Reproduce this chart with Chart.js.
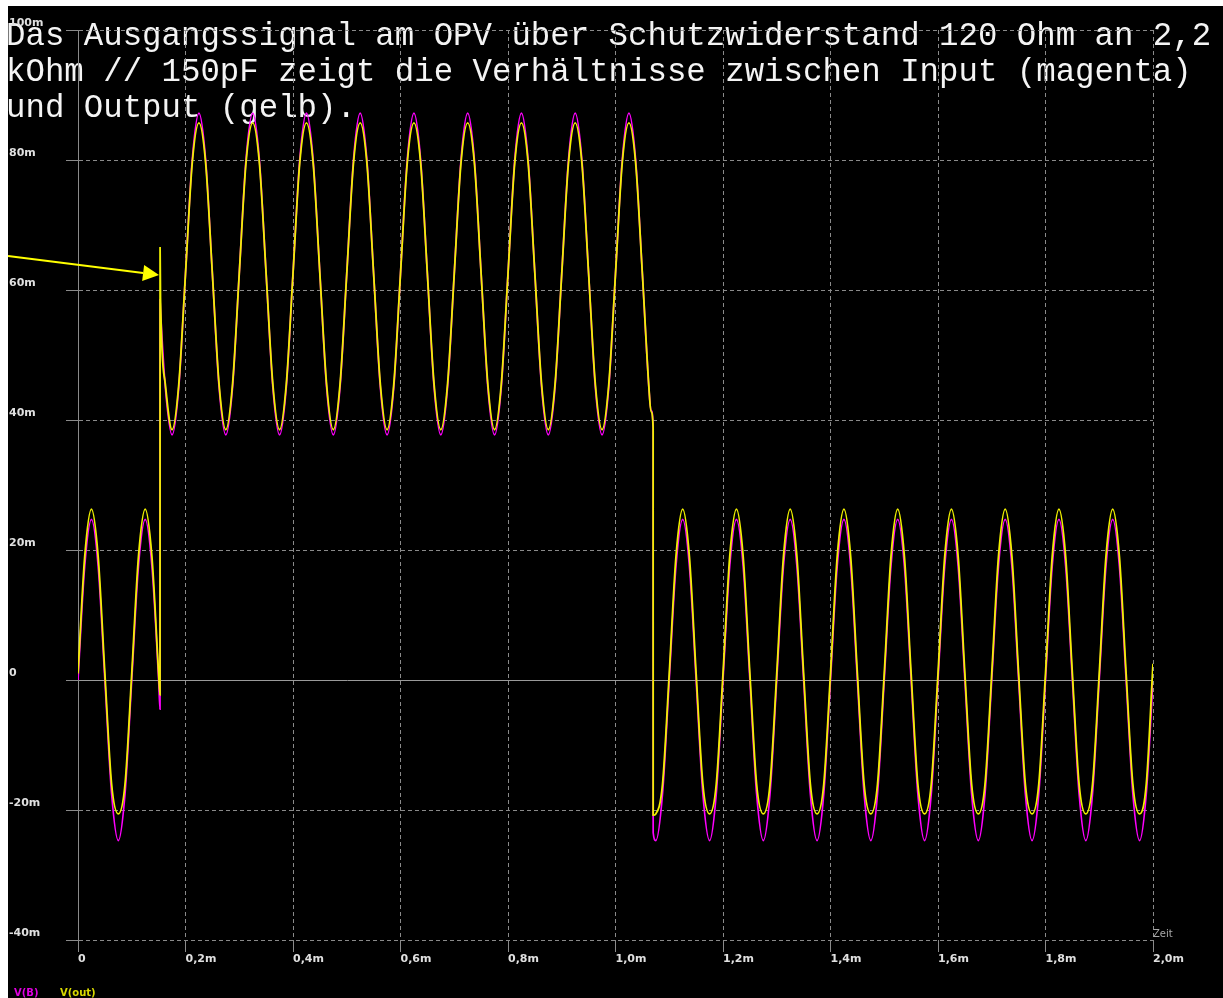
<!DOCTYPE html>
<html>
<head>
<meta charset="utf-8">
<script src="https://cdn.jsdelivr.net/npm/chart.js@4.4.1/dist/chart.umd.min.js"></script>
<style>
  html, body { margin: 0; padding: 0; background: #ffffff; }
  #wrap { position: absolute; left: 0; top: 0; width: 1223px; height: 998px; }
</style>
</head>
<body>
<div id="wrap"><canvas id="c" width="1223" height="998"></canvas></div>
<script>
// ---- data (time in ms, voltages in mV) ----
const timeMs = [
  0,0.0125,0.025,0.0375,0.05,0.0625,0.075,0.0875,
  0.1,0.1125,0.125,0.1375,0.15,0.1526,0.1527,0.1535,0.1625,0.175,0.1875,
  0.2,0.2125,0.225,0.2375,0.25,0.2625,0.275,0.2875,
  0.3,0.3125,0.325,0.3375,0.35,0.3625,0.375,0.3875,
  0.4,0.4125,0.425,0.4375,0.45,0.4625,0.475,0.4875,
  0.5,0.5125,0.525,0.5375,0.55,0.5625,0.575,0.5875,
  0.6,0.6125,0.625,0.6375,0.65,0.6625,0.675,0.6875,
  0.7,0.7125,0.725,0.7375,0.75,0.7625,0.775,0.7875,
  0.8,0.8125,0.825,0.8375,0.85,0.8625,0.875,0.8875,
  0.9,0.9125,0.925,0.9375,0.95,0.9625,0.975,0.9875,
  1.0,1.0125,1.025,1.0375,1.05,1.0625,1.066,1.07,1.0701,1.075,1.0875,
  1.1,1.1125,1.125,1.1375,1.15,1.1625,1.175,1.1875,
  1.2,1.2125,1.225,1.2375,1.25,1.2625,1.275,1.2875,
  1.3,1.3125,1.325,1.3375,1.35,1.3625,1.375,1.3875,
  1.4,1.4125,1.425,1.4375,1.45,1.4625,1.475,1.4875,
  1.5,1.5125,1.525,1.5375,1.55,1.5625,1.575,1.5875,
  1.6,1.6125,1.625,1.6375,1.65,1.6625,1.675,1.6875,
  1.7,1.7125,1.725,1.7375,1.75,1.7625,1.775,1.7875,
  1.8,1.8125,1.825,1.8375,1.85,1.8625,1.875,1.8875,
  1.9,1.9125,1.925,1.9375,1.95,1.9625,1.975,1.9875,
  2.0
];
const vB = [
  0,17.5,24.7,17.5,0,-17.5,-24.7,-17.5,
  0,17.5,24.7,17.5,0,-4.5,58.5,57,45,37.7,45,
  62.5,80,87.2,80,62.5,45,37.7,45,
  62.5,80,87.2,80,62.5,45,37.7,45,
  62.5,80,87.2,80,62.5,45,37.7,45,
  62.5,80,87.2,80,62.5,45,37.7,45,
  62.5,80,87.2,80,62.5,45,37.7,45,
  62.5,80,87.2,80,62.5,45,37.7,45,
  62.5,80,87.2,80,62.5,45,37.7,45,
  62.5,80,87.2,80,62.5,45,37.7,45,
  62.5,80,87.2,80,62.5,44.5,41.5,39.2,-23.5,-24.7,-17.5,
  0,17.5,24.7,17.5,0,-17.5,-24.7,-17.5,
  0,17.5,24.7,17.5,0,-17.5,-24.7,-17.5,
  0,17.5,24.7,17.5,0,-17.5,-24.7,-17.5,
  0,17.5,24.7,17.5,0,-17.5,-24.7,-17.5,
  0,17.5,24.7,17.5,0,-17.5,-24.7,-17.5,
  0,17.5,24.7,17.5,0,-17.5,-24.7,-17.5,
  0,17.5,24.7,17.5,0,-17.5,-24.7,-17.5,
  0,17.5,24.7,17.5,0,-17.5,-24.7,-17.5,
  0,17.5,24.7,17.5,0,-17.5,-24.7,-17.5,
  0
];
const vOut = [
  1,19,26.3,19,1,-16,-20.6,-16,
  1,19,26.3,19,1,-2.3,66.6,58.8,45.5,38.5,45.5,
  62.5,79.5,85.7,79.5,62.5,45.5,38.5,45.5,
  62.5,79.5,85.7,79.5,62.5,45.5,38.5,45.5,
  62.5,79.5,85.7,79.5,62.5,45.5,38.5,45.5,
  62.5,79.5,85.7,79.5,62.5,45.5,38.5,45.5,
  62.5,79.5,85.7,79.5,62.5,45.5,38.5,45.5,
  62.5,79.5,85.7,79.5,62.5,45.5,38.5,45.5,
  62.5,79.5,85.7,79.5,62.5,45.5,38.5,45.5,
  62.5,79.5,85.7,79.5,62.5,45.5,38.5,45.5,
  62.5,79.5,85.7,79.5,62.5,44.6,41.3,38.8,-20.8,-20.6,-16,
  1,19,26.3,19,1,-16,-20.6,-16,
  1,19,26.3,19,1,-16,-20.6,-16,
  1,19,26.3,19,1,-16,-20.6,-16,
  1,19,26.3,19,1,-16,-20.6,-16,
  1,19,26.3,19,1,-16,-20.6,-16,
  1,19,26.3,19,1,-16,-20.6,-16,
  1,19,26.3,19,1,-16,-20.6,-16,
  1,19,26.3,19,1,-16,-20.6,-16,
  1,19,26.3,19,1,-16,-20.6,-16,
  2.5
];
const seriesNames = ['V(B)', 'V(out)'];
const xTickLabels = ['0','0,2m','0,4m','0,6m','0,8m','1,0m','1,2m','1,4m','1,6m','1,8m','2,0m'];
const yTickLabels = ['-40m','-20m','0','20m','40m','60m','80m','100m'];
const xAxisTitle = 'Zeit';
const titleLines = [
  'Das Ausgangssignal am OPV über Schutzwiderstand 120 Ohm an 2,2',
  'kOhm // 150pF zeigt die Verhältnisse zwischen Input (magenta)',
  'und Output (gelb).'
];
const arrowTarget = [0.1526, 62.3];

// ---- build ----
const toPoints = (vals) => vals.map((v, i) => ({ x: timeMs[i], y: v }));

const GRID = '#8a8a8a';
const decor = {
  id: 'decor',
  beforeDraw(chart) {
    const c = chart.ctx;
    c.save();
    c.fillStyle = '#ffffff';
    c.fillRect(0, 0, chart.width, chart.height);
    c.fillStyle = '#000000';
    c.fillRect(8, 6, chart.width - 8, chart.height - 6);
    // title text (underneath grid and traces)
    c.font = '32.4px "Liberation Mono"';
    c.fillStyle = '#f4f4f4';
    c.textAlign = 'left';
    c.textBaseline = 'alphabetic';
    titleLines.forEach((t, i) => c.fillText(t, 6, 45 + 36 * i));
    c.restore();
  },
  afterDraw(chart) {
    const c = chart.ctx;
    const area = chart.chartArea;
    const xs = chart.scales.x, ys = chart.scales.y;
    c.save();
    // axis title "Zeit"
    c.font = '10px "DejaVu Sans"';
    c.fillStyle = '#a8a8a8';
    c.textAlign = 'left';
    c.textBaseline = 'alphabetic';
    c.fillText(xAxisTitle, area.right, area.bottom - 3);
    // legend
    c.font = 'bold 10px "DejaVu Sans"';
    const legendX = [14, 60];
    chart.data.datasets.forEach((ds, i) => {
      c.fillStyle = ds.legendColor;
      c.fillText(ds.label, legendX[i], 996);
    });
    // arrow annotation
    const tx = xs.getPixelForValue(arrowTarget[0]) - 1;
    const ty = ys.getPixelForValue(arrowTarget[1]);
    const sx = 8, sy = 256;
    const ang = Math.atan2(ty - sy, tx - sx);
    const hl = 16, hw = 8;
    const bx = tx - hl * Math.cos(ang), by = ty - hl * Math.sin(ang);
    c.strokeStyle = '#ffff00';
    c.fillStyle = '#ffff00';
    c.lineWidth = 2;
    c.beginPath();
    c.moveTo(sx, sy);
    c.lineTo(bx, by);
    c.stroke();
    c.beginPath();
    c.moveTo(tx, ty);
    c.lineTo(bx + hw * Math.sin(ang), by - hw * Math.cos(ang));
    c.lineTo(bx - hw * Math.sin(ang), by + hw * Math.cos(ang));
    c.closePath();
    c.fill();
    c.restore();
  }
};

new Chart(document.getElementById('c'), {
  type: 'line',
  data: {
    datasets: [
      {
        label: seriesNames[0],
        data: toPoints(vB),
        borderColor: '#ff00ff',
        legendColor: '#e000e0',
        borderWidth: 1.7,
        pointRadius: 0,
        cubicInterpolationMode: 'monotone',
        order: 2
      },
      {
        label: seriesNames[1],
        data: toPoints(vOut),
        borderColor: '#f0f000',
        legendColor: '#d8d800',
        borderWidth: 1.8,
        pointRadius: 0,
        cubicInterpolationMode: 'monotone',
        order: 1
      }
    ]
  },
  options: {
    responsive: false,
    animation: false,
    devicePixelRatio: 1,
    layout: { padding: { left: 9, right: 70, top: 30, bottom: 18 } },
    plugins: { legend: { display: false }, tooltip: { enabled: false } },
    scales: {
      x: {
        type: 'linear',
        min: 0, max: 2,
        afterFit: (s) => { s.height = 40; },
        ticks: {
          stepSize: 0.2,
          autoSkip: false,
          maxRotation: 0,
          align: 'start',
          padding: 1,
          color: '#e0e0e0',
          font: { family: 'DejaVu Sans', size: 11, weight: 'bold' },
          callback: (v, i) => xTickLabels[i]
        },
        grid: {
          color: GRID,
          lineWidth: 1,
          tickLength: 12,
          tickColor: GRID,
          tickBorderDash: []
        },
        border: {
          display: false,
          dash: (ctx) => (ctx.tick && ctx.tick.value === 0) ? [] : [4, 3]
        }
      },
      y: {
        type: 'linear',
        min: -40, max: 100,
        afterFit: (s) => { s.width = 69; },
        ticks: {
          stepSize: 20,
          autoSkip: false,
          crossAlign: 'far',
          labelOffset: -7,
          color: '#e0e0e0',
          font: { family: 'DejaVu Sans', size: 11, weight: 'bold' },
          callback: (v, i) => yTickLabels[i]
        },
        grid: {
          color: (ctx) => (ctx.tick && ctx.tick.value === 0) ? '#9a9a9a' : GRID,
          lineWidth: 1,
          tickLength: 12,
          tickColor: GRID,
          tickBorderDash: []
        },
        border: {
          display: true,
          color: GRID,
          width: 1,
          dash: (ctx) => (ctx.tick && ctx.tick.value === 0) ? [] : [4, 3]
        }
      }
    }
  },
  plugins: [decor]
});
</script>
</body>
</html>
